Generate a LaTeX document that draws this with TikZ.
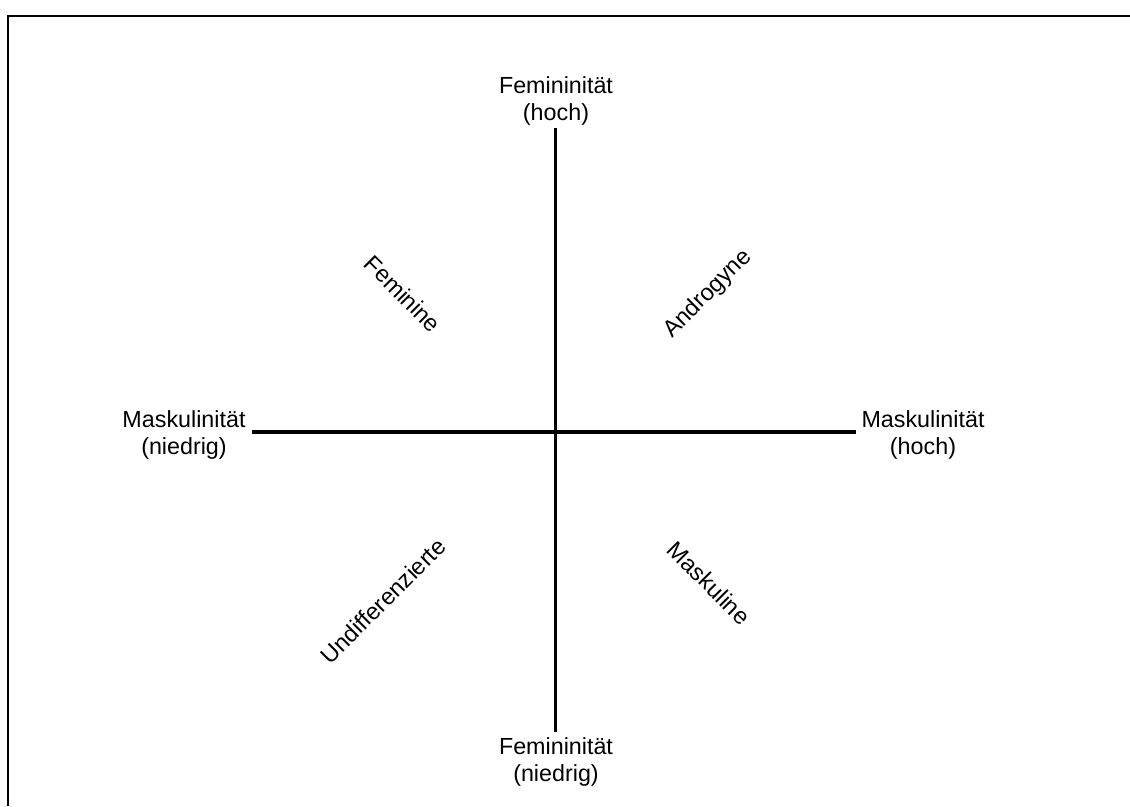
\documentclass[tikz,border=0pt]{standalone}
\usepackage{fontspec}
\setmainfont{Liberation Sans}
\begin{document}
\begin{tikzpicture}[x=1pt,y=-1pt,
  axis/.style={line width=3.2pt},
  frameline/.style={line width=2pt},
  lbl/.style={align=center,inner sep=0pt,font=\fontsize{23.3}{27}\selectfont},
  quad/.style={inner sep=0pt,font=\fontsize{23.5}{27}\selectfont}]
\useasboundingbox (0,0) rectangle (1130,806);
\draw[frameline] (7.5,806) -- (7.5,16) -- (1130,16);
% axes
\coordinate (top) at (555.5,128);
\coordinate (bot) at (555.5,732);
\coordinate (lft) at (252,432);
\coordinate (rgt) at (856,432);
\draw[axis] (top) -- (bot);
\draw[axis] (lft) -- (rgt);
% axis labels
\node[lbl] (ftop) at (556,101) {Femininität\\(hoch)};
\node[lbl] (fbot) at (556,762) {Femininität\\(niedrig)};
\node[lbl] (mlft) at (184,435) {Maskulinität\\(niedrig)};
\node[lbl] (mrgt) at (923,435) {Maskulinität\\(hoch)};
% quadrant labels
\node[quad,rotate=-45] (fem) at (403,294) {Feminine};
\node[quad,rotate=45] (andr) at (708,294) {Androgyne};
\node[quad,rotate=45] (undiff) at (383,601) {Undifferenzierte};
\node[quad,rotate=-45] (mask) at (709,583) {Maskuline};
\end{tikzpicture}
\end{document}
